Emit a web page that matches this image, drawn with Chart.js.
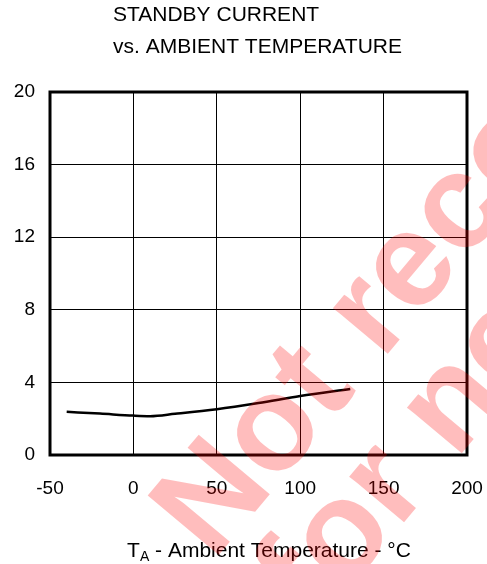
<!DOCTYPE html>
<html>
<head>
<meta charset="utf-8">
<script src="https://cdn.jsdelivr.net/npm/chart.js@4"></script>
<style>
  html, body { margin: 0; padding: 0; background: #fff; }
  #wrap { width: 487px; height: 564px; }
</style>
</head>
<body>
<div id="wrap"><canvas id="standby-chart" width="487" height="564"></canvas></div>
<script>
// Datos
const temps = [-40, -20, 0, 10, 25, 50, 75, 100, 130];
const currents = [2.38, 2.28, 2.17, 2.14, 2.27, 2.52, 2.86, 3.25, 3.64];

const xTicks = [-50, 0, 50, 100, 150, 200];
const yTicks = [0, 4, 8, 12, 16, 20];

const titleLines = ['STANDBY CURRENT', 'vs. AMBIENT TEMPERATURE'];
const watermarkLines = ['Not recommended', 'for new designs'];

const FONT = 'Arial, "Liberation Sans", sans-serif';

// Títulos, caja del gráfico y marca de agua
const decorPlugin = {
    id: 'decor',
    afterDatasetsDraw(chart) {
        const ctx = chart.ctx;
        const a = chart.chartArea;
        ctx.save();
        ctx.strokeStyle = '#000';
        ctx.lineWidth = 3;
        ctx.strokeRect(a.left, a.top, a.right - a.left, a.bottom - a.top);
        ctx.restore();
    },
    afterDraw(chart) {
        const ctx = chart.ctx;
        ctx.save();
        ctx.fillStyle = '#000';
        ctx.textAlign = 'left';
        ctx.textBaseline = 'alphabetic';
        ctx.font = '21px ' + FONT;
        ctx.fillText(titleLines[0], 113, 21);
        ctx.fillText(titleLines[1], 113, 53);

        // Título del eje X con subíndice
        const main = 'T';
        const sub = 'A';
        const rest = ' - Ambient Temperature - \u00B0C';
        ctx.font = '21px ' + FONT;
        const w1 = ctx.measureText(main).width;
        const w3 = ctx.measureText(rest).width;
        ctx.font = '14px ' + FONT;
        const w2 = ctx.measureText(sub).width;
        let x = 269 - (w1 + w2 + w3) / 2;
        ctx.font = '21px ' + FONT;
        ctx.fillText(main, x, 557);
        x += w1;
        ctx.font = '14px ' + FONT;
        ctx.fillText(sub, x, 561);
        x += w2;
        ctx.font = '21px ' + FONT;
        ctx.fillText(rest, x, 557);

        // Marca de agua
        ctx.fillStyle = 'rgba(255, 0, 0, 0.26)';
        ctx.font = 'bold 135px ' + FONT;
        const ang = -50 * Math.PI / 180;
        const starts = [[213, 562], [316, 627]];
        watermarkLines.forEach((txt, i) => {
            ctx.save();
            ctx.translate(starts[i][0], starts[i][1]);
            ctx.rotate(ang);
            ctx.fillText(txt, 0, 0);
            ctx.restore();
        });
        ctx.restore();
    }
};

const config = {
    type: 'line',
    data: {
        datasets: [{
            data: temps.map((t, i) => ({ x: t, y: currents[i] })),
            borderColor: '#000',
            borderWidth: 2.5,
            pointRadius: 0,
            fill: false,
            cubicInterpolationMode: 'monotone'
        }]
    },
    options: {
        responsive: false,
        animation: false,
        layout: { padding: { top: 92, right: 20, left: 0, bottom: 0 } },
        plugins: {
            legend: { display: false },
            tooltip: { enabled: false }
        },
        scales: {
            x: {
                type: 'linear',
                min: -50,
                max: 200,
                afterFit: (s) => {
                    s.height = 109;
                    s.paddingLeft = 0;
                    s.paddingRight = 0;
                },
                afterBuildTicks: (s) => { s.ticks = xTicks.map(v => ({ value: v })); },
                ticks: {
                    color: '#000',
                    padding: 22,
                    maxRotation: 0,
                    font: { family: FONT, size: 19 }
                },
                grid: { color: '#000', lineWidth: 1, drawTicks: false },
                border: { display: false }
            },
            y: {
                min: 0,
                max: 20,
                afterFit: (s) => {
                    s.width = 50;
                    s.paddingTop = 0;
                    s.paddingBottom = 0;
                },
                afterBuildTicks: (s) => { s.ticks = yTicks.map(v => ({ value: v })); },
                ticks: {
                    color: '#000',
                    padding: 15,
                    font: { family: FONT, size: 19 }
                },
                grid: { color: '#000', lineWidth: 1, drawTicks: false },
                border: { display: false }
            }
        }
    },
    plugins: [decorPlugin]
};

const ctx = document.getElementById('standby-chart').getContext('2d');
new Chart(ctx, config);
</script>
</body>
</html>
